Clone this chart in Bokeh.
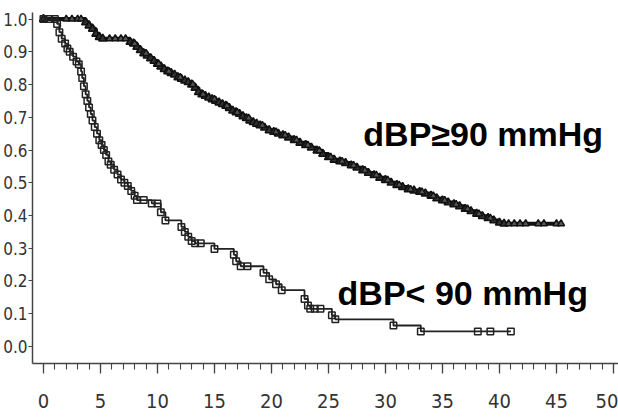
import numpy as np
from bokeh.plotting import figure
from bokeh.models import SingleIntervalTicker, Range1d, NumeralTickFormatter
from bokeh.core.properties import value
from bokeh.embed import file_html
from bokeh.resources import INLINE

# ---- data: Kaplan-Meier steps ----
# dBP >= 90 mmHg (upper curve): event times and survival after each step
hi_t = [0, 3.7, 4.0, 4.3, 4.6, 4.9, 5.2, 7.6, 7.9, 8.2, 8.5, 8.8, 9.1, 9.4, 9.7,
        10.0, 10.3, 10.6, 10.9, 11.2, 11.5, 11.8, 12.1, 12.4, 12.7, 13.0, 13.3,
        13.6, 13.9, 14.2, 14.5, 14.8, 15.1, 15.4, 15.7, 16.0, 16.3, 16.6, 16.9,
        17.2, 17.5, 17.8, 18.1, 18.4, 18.7, 19.0, 19.4, 19.8, 20.2, 20.6, 21.0,
        21.5, 22.0, 22.5, 23.0, 23.5, 24.0, 24.5, 25.0, 25.5, 26.0, 26.5, 27.0,
        27.5, 28.0, 28.5, 29.0, 29.5, 30.0, 30.5, 31.0, 31.5, 32.0, 32.5, 33.0,
        33.5, 34.0, 34.5, 35.0, 35.5, 36.0, 36.5, 37.0, 37.5, 38.0, 38.5, 39.0,
        39.5, 40.0, 40.4]
hi_s = [1.0, 0.99, 0.98, 0.97, 0.955, 0.945, 0.94, 0.93, 0.925, 0.915, 0.905,
        0.895, 0.888, 0.88, 0.872, 0.863, 0.855, 0.847, 0.84, 0.835, 0.83, 0.822,
        0.817, 0.812, 0.807, 0.80, 0.79, 0.777, 0.77, 0.765, 0.76, 0.755, 0.75,
        0.745, 0.74, 0.735, 0.728, 0.72, 0.715, 0.71, 0.703, 0.697, 0.69, 0.685,
        0.68, 0.675, 0.668, 0.66, 0.655, 0.65, 0.645, 0.638, 0.63, 0.622, 0.615,
        0.607, 0.598, 0.588, 0.578, 0.57, 0.565, 0.56, 0.553, 0.546, 0.538, 0.53,
        0.523, 0.515, 0.508, 0.50, 0.493, 0.487, 0.48, 0.476, 0.472, 0.467, 0.46,
        0.452, 0.446, 0.44, 0.434, 0.428, 0.42, 0.413, 0.405, 0.398, 0.392, 0.385,
        0.378, 0.375]
hi_end = 45.4
hi_cens = [2.0, 2.5, 3.0, 3.3, 5.8, 6.3, 6.8, 7.2, 8.0, 9.0, 10.1, 11.0, 12.0,
           13.1, 14.0, 15.0, 16.1, 17.0, 18.0, 19.2, 20.4, 21.2, 22.2, 23.2,
           24.2, 25.2, 26.2, 27.2, 28.2, 29.2, 30.2, 31.2, 32.2, 33.2, 34.2,
           35.2, 36.2, 37.2, 38.2, 39.2, 40.8, 41.3, 41.8, 42.3, 43.4, 43.9,
           45.0, 45.4]

# dBP < 90 mmHg (lower curve)
lo_t = [0, 1.2, 1.4, 1.6, 1.9, 2.1, 2.3, 2.6, 2.9, 3.1, 3.3, 3.4, 3.55, 3.7,
        3.85, 4.0, 4.15, 4.3, 4.5, 4.7, 4.9, 5.1, 5.3, 5.5, 5.7, 5.9, 6.2, 6.5,
        6.8, 7.1, 7.4, 7.7, 8.0, 8.2, 9.5, 10.3, 10.7, 12.1, 12.4, 12.7, 13.0,
        13.3, 15.0, 16.7, 16.9, 17.3, 19.3, 19.8, 20.4, 20.9, 22.9, 23.2, 23.4,
        25.3, 25.6, 30.7, 33.1]
lo_s = [1.0, 0.985, 0.96, 0.94, 0.925, 0.91, 0.90, 0.885, 0.87, 0.862, 0.84,
        0.82, 0.795, 0.77, 0.75, 0.73, 0.71, 0.69, 0.67, 0.65, 0.63, 0.615, 0.60,
        0.585, 0.565, 0.555, 0.54, 0.525, 0.51, 0.50, 0.49, 0.475, 0.46, 0.447,
        0.437, 0.41, 0.385, 0.365, 0.35, 0.335, 0.322, 0.315, 0.298, 0.28, 0.26,
        0.245, 0.225, 0.205, 0.19, 0.172, 0.145, 0.125, 0.115, 0.095, 0.083,
        0.064, 0.046]
lo_end = 41.0
lo_cens = [0.5, 1.0, 8.8, 10.0, 13.8, 17.9, 23.8, 24.3, 38.1, 39.2, 41.0]

x_ticks_interval = 5
y_ticks = [round(0.1 * i, 1) for i in range(11)]


def surv_at(times, surv, t):
    idx = np.searchsorted(times, t, side="right") - 1
    return [surv[i] for i in idx]


p = figure(width=618, height=419, output_backend="svg", toolbar_location=None,
           x_range=Range1d(-0.96, 50.44), y_range=Range1d(-0.052, 1.02),
           min_border_left=30, min_border_right=0, min_border_top=12,
           min_border_bottom=56, background_fill_color="white",
           border_fill_color="white")
p.outline_line_color = None
p.xgrid.visible = False
p.ygrid.visible = False

# upper curve
hx = hi_t + [hi_end]
hy = hi_s + [hi_s[-1]]
p.step(hx, hy, mode="after", line_color="#111111", line_width=4)
p.scatter(hi_t, hi_s, marker="triangle", size=8, line_color="#111111",
          fill_color="#333333", line_width=1.6)
p.scatter(hi_cens, surv_at(hi_t, hi_s, hi_cens), marker="triangle", size=7,
          line_color="#111111", fill_color="#555555", line_width=1.4)

# lower curve
lx = lo_t + [lo_end]
ly = lo_s + [lo_s[-1]]
p.step(lx, ly, mode="after", line_color="#222222", line_width=1.8)
p.scatter(lo_t, lo_s, marker="square", size=6.5, line_color="#222222",
          fill_color=None, line_width=1.5)
p.scatter(lo_cens, surv_at(lo_t, lo_s, lo_cens), marker="square", size=6.5,
          line_color="#222222", fill_color=None, line_width=1.5)

# labels
p.text(x=[28.06], y=[0.648], text=["dBP≥90 mmHg"], text_font=value("Liberation Sans"),
       text_font_style="bold", text_font_size="34px", text_color="black",
       text_baseline="alphabetic", text_align="left")
p.text(x=[25.8], y=[0.164], text=["dBP< 90 mmHg"], text_font=value("Liberation Sans"),
       text_font_style="bold", text_font_size="34px", text_color="black",
       text_baseline="alphabetic", text_align="left")

tick_font = "'Liberation Sans Narrow', 'DejaVu Sans Condensed', sans-serif"

# x axis
p.xaxis.ticker = SingleIntervalTicker(interval=x_ticks_interval, num_minor_ticks=5)
p.xaxis.axis_line_color = "#444444"
p.xaxis.axis_line_width = 1.5
p.xaxis.major_tick_line_color = "#444444"
p.xaxis.minor_tick_line_color = "#444444"
p.xaxis.major_tick_line_width = 1.3
p.xaxis.minor_tick_line_width = 1.1
p.xaxis.major_tick_out = 10
p.xaxis.major_tick_in = 0
p.xaxis.minor_tick_out = 6
p.xaxis.minor_tick_in = 0
p.xaxis.major_label_standoff = 20
p.xaxis.major_label_text_font = tick_font
p.xaxis.major_label_text_font_size = "20px"
p.xaxis.major_label_text_color = "#333333"

# y axis
p.yaxis.ticker = y_ticks
p.yaxis.formatter = NumeralTickFormatter(format="0.0")
p.yaxis.axis_line_color = "#444444"
p.yaxis.axis_line_width = 1.5
p.yaxis.major_tick_line_color = "#444444"
p.yaxis.major_tick_out = 4
p.yaxis.major_tick_in = 0
p.yaxis.minor_tick_line_color = None
p.yaxis.major_label_standoff = 1
p.yaxis.major_label_text_font = tick_font
p.yaxis.major_label_text_font_size = "17px"
p.yaxis.major_label_text_color = "#333333"

open("out.html", "w").write(file_html(p, INLINE))
